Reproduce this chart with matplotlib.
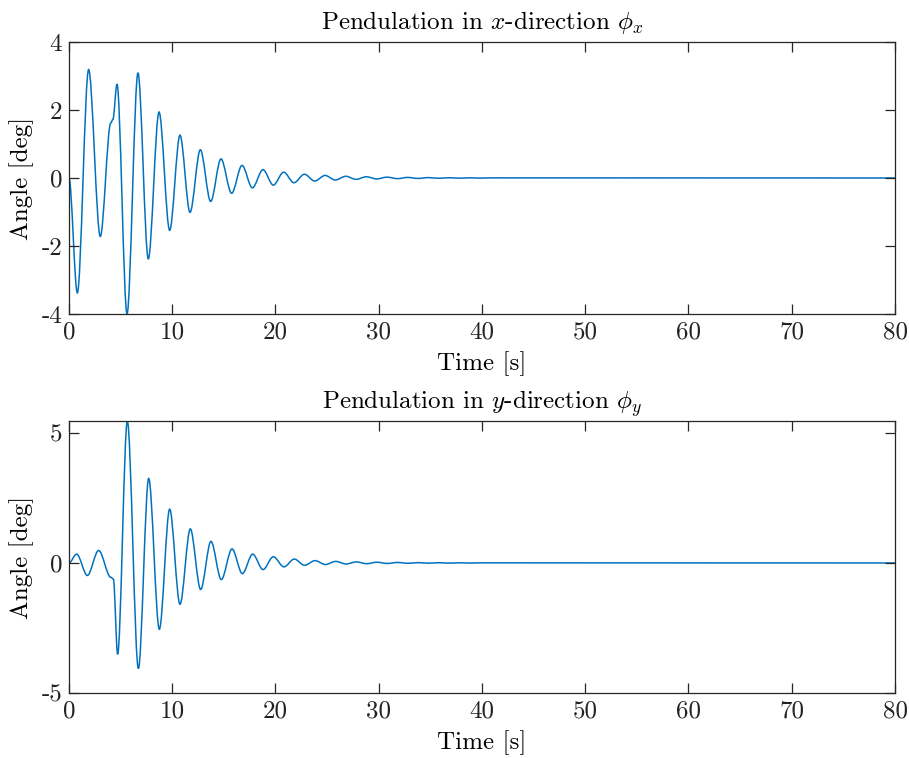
import numpy as np
import matplotlib
matplotlib.use("Agg")
import matplotlib.pyplot as plt
from matplotlib.path import Path
from matplotlib.patches import PathPatch

# extrema / turning points (time [s], angle [deg])
tx = [0.0, 0.81, 1.90, 3.03, 4.05, 4.25, 4.65, 5.62, 6.68, 7.68, 8.72, 9.75, 10.75,
      11.72, 12.72, 13.72, 14.72, 15.75, 16.76, 17.76, 18.79, 19.79, 20.79, 21.79,
      22.80, 23.80, 24.80, 25.80, 26.80, 27.80, 28.80, 29.80, 30.80, 31.80, 32.80,
      33.80, 34.80, 35.80, 36.80, 37.80, 38.80, 39.80, 40.80, 80.0]
phix = [0.0, -3.38, 3.19, -1.72, 1.62, 1.72, 2.76, -4.0, 3.09, -2.38, 1.94, -1.54, 1.26,
        -1.01, 0.83, -0.69, 0.56, -0.45, 0.37, -0.29, 0.245, -0.21, 0.17, -0.14,
        0.11, -0.09, 0.075, -0.06, 0.05, -0.04, 0.035, -0.028, 0.024, -0.019, 0.016,
        -0.013, 0.011, -0.009, 0.007, -0.006, 0.005, -0.004, 0.003, 0.0]

ty = [0.0, 0.74, 1.78, 2.87, 4.05, 4.30, 4.71, 5.65, 6.72, 7.72, 8.75, 9.75, 10.75,
      11.75, 12.75, 13.75, 14.75, 15.79, 16.79, 17.79, 18.79, 19.79, 20.82, 21.82,
      22.82, 23.83, 24.83, 25.83, 26.83, 27.83, 28.83, 29.83, 30.83, 31.83, 32.83,
      33.83, 34.83, 35.83, 36.83, 37.83, 38.83, 39.83, 80.0]
phiy = [0.0, 0.34, -0.48, 0.48, -0.55, -0.62, -3.51, 5.46, -4.06, 3.25, -2.55, 2.07, -1.59,
        1.31, -1.02, 0.83, -0.64, 0.54, -0.41, 0.34, -0.255, 0.24, -0.15, 0.15,
        -0.09, 0.09, -0.06, 0.06, -0.04, 0.04, -0.028, 0.028, -0.019, 0.019, -0.013,
        0.013, -0.009, 0.009, -0.006, 0.006, -0.004, 0.004, 0.0]

xticks = [0, 10, 20, 30, 40, 50, 60, 70, 80]
yticks_x = [-4, -2, 0, 2, 4]
yticks_y = [-5, 0, 5]

LINE, AXC = "#0072BD", "#262626"
plt.rcParams.update({
    "font.family": "serif", "font.serif": ["cmr10", "DejaVu Serif"],
    "mathtext.fontset": "cm", "font.size": 18,
    "axes.edgecolor": AXC, "axes.linewidth": 0.9,
    "xtick.color": AXC, "ytick.color": AXC, "text.color": "black",
    "xtick.labelcolor": "#222222", "ytick.labelcolor": "#222222",
    "xtick.direction": "in", "ytick.direction": "in",
    "xtick.top": True, "ytick.right": True,
    "xtick.major.size": 7, "ytick.major.size": 7,
    "xtick.major.width": 0.9, "ytick.major.width": 0.9,
    "xtick.major.pad": 5, "ytick.major.pad": 5,
})


def smooth_path(t, v):
    # cubic segments with flat tangents at every turning point
    verts, codes = [(t[0], v[0])], [Path.MOVETO]
    for i in range(len(t) - 1):
        dt = t[i + 1] - t[i]
        verts += [(t[i] + dt / 3, v[i]), (t[i + 1] - dt / 3, v[i + 1]), (t[i + 1], v[i + 1])]
        codes += [Path.CURVE4] * 3
    return Path(verts, codes)


fig = plt.figure(figsize=(9.09, 7.58), dpi=100)
ax1 = fig.add_axes([0.0759, 0.5858, 0.9087, 0.3588])
ax2 = fig.add_axes([0.0759, 0.0858, 0.9087, 0.3588])

for ax, t, v, yt, ylim, ttl in [
        (ax1, tx, phix, yticks_x, (-4, 4), r"Pendulation in $x$-direction $\phi_x$"),
        (ax2, ty, phiy, yticks_y, (-5, 5.46), r"Pendulation in $y$-direction $\phi_y$")]:
    ax.add_patch(PathPatch(smooth_path(t, v), facecolor="none", edgecolor=LINE, lw=1.1))
    ax.set_xlim(0, 80); ax.set_ylim(*ylim)
    ax.set_xticks(xticks, [str(x) for x in xticks])
    ax.set_yticks(yt, [str(y) for y in yt])
    ax.set_xlabel("Time [s]", labelpad=6)
    ax.set_ylabel("Angle [deg]", labelpad=5)
    ax.set_title(ttl, fontsize=18, pad=9)

fig.savefig("out.png", dpi=100, facecolor="white")
